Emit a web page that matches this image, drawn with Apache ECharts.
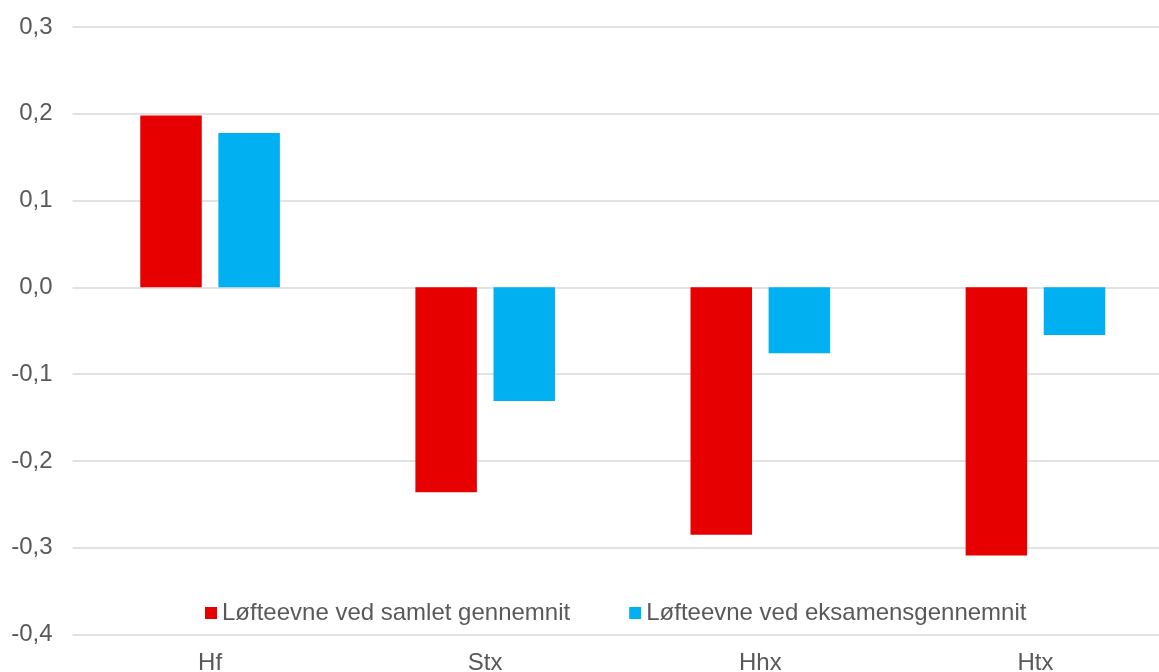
<!DOCTYPE html>
<html>
<head>
<meta charset="utf-8">
<script src="https://cdn.jsdelivr.net/npm/echarts@6/dist/echarts.min.js"></script>
<style>
  html, body { margin: 0; padding: 0; background: #fff; }
  #chart { width: 1159px; height: 672px; }
</style>
</head>
<body>
<div id="chart"></div>
<script>
// Skoletyper på kategoriaksen
const categories = ['Hf', 'Stx', 'Hhx', 'Htx'];

// Serienavne (forklaring)
const seriesNames = ['Løfteevne ved samlet gennemnit', 'Løfteevne ved eksamensgennemnit'];

// Løfteevne pr. skoletype
const samletValues = [0.198, -0.236, -0.285, -0.309];
const eksamenValues = [0.178, -0.131, -0.076, -0.055];

// Værdiaksens trin
const yMin = -0.4;
const yMax = 0.3;
const yStep = 0.1;

const textColor = '#595959';
const fontFamily = '"Liberation Sans", Arial, sans-serif';

const chart = echarts.init(document.getElementById('chart'), null, { renderer: 'canvas' });

chart.setOption({
  animation: false,
  backgroundColor: '#ffffff',
  textStyle: { fontFamily: fontFamily },
  // Plotområdet fortsætter ud over højre kant; etiketterne må gå ud over kanten
  grid: {
    left: 72.5,
    width: 1100.5,
    top: 27,
    height: 607.5,
    containLabel: false,
    outerBoundsMode: 'none'
  },
  legend: {
    data: seriesNames,
    left: 205,
    top: 601,
    padding: 0,
    itemWidth: 12,
    itemHeight: 12,
    itemGap: 59,
    icon: 'rect',
    textStyle: { color: textColor, fontSize: 24, fontFamily: fontFamily }
  },
  xAxis: {
    type: 'category',
    data: categories,
    position: 'bottom',
    axisLine: { show: false, onZero: false },
    axisTick: { show: false },
    splitLine: { show: false },
    axisLabel: { color: textColor, fontSize: 24, margin: 17, fontFamily: fontFamily }
  },
  yAxis: {
    type: 'value',
    min: yMin,
    max: yMax,
    interval: yStep,
    axisLine: { show: false },
    axisTick: { show: false },
    splitLine: { lineStyle: { color: '#D9D9D9', width: 1.5 } },
    axisLabel: {
      color: textColor,
      fontSize: 24,
      margin: 20,
      fontFamily: fontFamily,
      formatter: function (v) { return v.toFixed(1).replace('.', ','); }
    }
  },
  series: [
    {
      name: seriesNames[0],
      type: 'bar',
      data: samletValues,
      barWidth: 61.5,
      barGap: '27%',
      itemStyle: { color: '#E60000' }
    },
    {
      name: seriesNames[1],
      type: 'bar',
      data: eksamenValues,
      barWidth: 61.5,
      itemStyle: { color: '#00B0F0' }
    }
  ]
});
</script>
</body>
</html>
